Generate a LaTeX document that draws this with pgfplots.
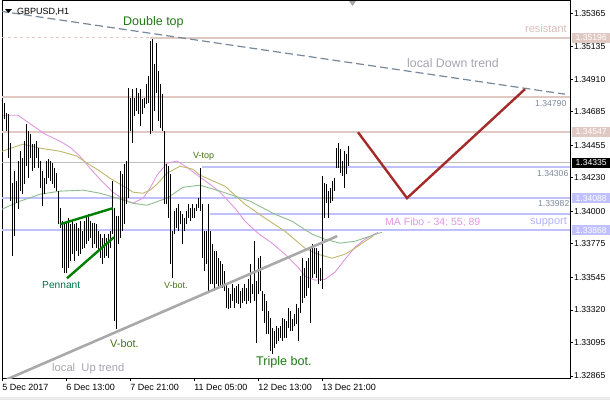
\documentclass[border=0pt]{standalone}
\usepackage{pgfplots}
\pgfplotsset{compat=1.18}
\usepackage{pgfplotstable}
\usepackage{fontspec}
\setmainfont{Liberation Sans}
\newcommand\fs[1]{\fontsize{#1bp}{#1bp}\selectfont}
\definecolor{respink}{RGB}{224,200,195}
\definecolor{respinkt}{RGB}{218,188,183}
\definecolor{supblue}{RGB}{192,192,255}
\definecolor{suptext}{RGB}{178,178,250}
\definecolor{dtrend}{RGB}{119,136,153}
\definecolor{utrend}{RGB}{169,169,169}
\definecolor{penn}{RGB}{0,128,0}
\definecolor{redv}{RGB}{165,42,42}
\definecolor{maviol}{RGB}{225,150,225}
\definecolor{matan}{RGB}{189,183,107}
\definecolor{magreen}{RGB}{143,188,143}
\definecolor{lblgreen}{RGB}{30,120,20}
\definecolor{lblolive}{RGB}{70,115,20}
\definecolor{lblteal}{RGB}{0,115,70}
\definecolor{graytxt}{RGB}{165,165,178}
\definecolor{valtxt}{RGB}{120,134,152}

\pgfplotstableread{
i h l
0 1.34723 1.34606
1 1.34744 1.34634
2 1.34675 1.34551
3 1.34668 1.34365
4 1.34469 1.34069
5 1.34193 1.33690
6 1.34276 1.33828
7 1.34207 1.34055
8 1.34345 1.34014
9 1.34413 1.34138
10 1.34365 1.34117
11 1.34482 1.34186
12 1.34599 1.34310
13 1.34551 1.34227
14 1.34531 1.34365
15 1.34462 1.34276
16 1.34462 1.34296
17 1.34482 1.34365
18 1.34434 1.34296
19 1.34345 1.34158
20 1.34276 1.34034
21 1.34227 1.34117
22 1.34345 1.34186
23 1.34358 1.34227
24 1.34345 1.34207
25 1.34331 1.34186
26 1.34296 1.34158
27 1.34262 1.34138
28 1.34138 1.33910
29 1.34021 1.33883
30 1.33931 1.33607
31 1.33910 1.33573
32 1.33931 1.33573
33 1.33952 1.33607
34 1.33910 1.33655
35 1.33931 1.33704
36 1.33910 1.33655
37 1.33917 1.33724
38 1.33883 1.33690
39 1.33931 1.33704
40 1.33862 1.33738
41 1.33931 1.33745
42 1.33966 1.33773
43 1.33979 1.33793
44 1.33931 1.33814
45 1.33917 1.33745
46 1.33917 1.33773
47 1.33910 1.33745
48 1.33862 1.33724
49 1.33842 1.33676
50 1.33814 1.33635
51 1.33842 1.33676
52 1.33814 1.33690
53 1.33842 1.33676
54 1.33862 1.33745
55 1.34207 1.33842
56 1.34021 1.33242
57 1.33966 1.33187
58 1.33966 1.33773
59 1.34276 1.33814
60 1.34255 1.33862
61 1.34324 1.33910
62 1.34345 1.34048
63 1.34847 1.34090
64 1.34779 1.34551
65 1.34841 1.34469
66 1.34779 1.34655
67 1.34847 1.34689
68 1.34813 1.34668
69 1.34841 1.34586
70 1.34772 1.34668
71 1.34779 1.34710
72 1.34875 1.34737
73 1.34930 1.34744
74 1.35171 1.34531
75 1.35185 1.34551
76 1.35013 1.34689
77 1.35158 1.34813
78 1.34965 1.34620
79 1.34875 1.34572
80 1.34806 1.34551
81 1.34551 1.34048
82 1.34324 1.34048
83 1.34310 1.33952
84 1.34255 1.33635
85 1.33862 1.33538
86 1.34000 1.33842
87 1.34021 1.33883
88 1.34048 1.33862
89 1.34000 1.33910
90 1.33979 1.33773
91 1.33952 1.33862
92 1.34000 1.33910
93 1.34048 1.33952
94 1.34021 1.33931
95 1.34048 1.33952
96 1.34021 1.33952
97 1.34048 1.34000
98 1.34090 1.34021
99 1.34296 1.34000
100 1.34048 1.33676
101 1.33862 1.33587
102 1.33862 1.33635
103 1.34048 1.33449
104 1.33862 1.33497
105 1.33773 1.33497
106 1.33724 1.33469
107 1.33724 1.33497
108 1.33676 1.33469
109 1.33655 1.33469
110 1.33635 1.33469
111 1.33587 1.33449
112 1.33497 1.33332
113 1.33469 1.33325
114 1.33428 1.33332
115 1.33497 1.33380
116 1.33469 1.33332
117 1.33483 1.33366
118 1.33497 1.33359
119 1.33449 1.33332
120 1.33469 1.33366
121 1.33497 1.33380
122 1.33469 1.33359
123 1.33531 1.33380
124 1.33635 1.33366
125 1.33497 1.33428
126 1.33793 1.33380
127 1.33518 1.33091
128 1.33676 1.33428
129 1.33690 1.33449
130 1.33449 1.33311
131 1.33428 1.33228
132 1.33380 1.33153
133 1.33311 1.33153
134 1.33263 1.33035
135 1.33194 1.33015
136 1.33173 1.33056
137 1.33208 1.33084
138 1.33194 1.33104
139 1.33208 1.33125
140 1.33263 1.33104
141 1.33256 1.33125
142 1.33242 1.33125
143 1.33332 1.33194
144 1.33311 1.33173
145 1.33256 1.33173
146 1.33290 1.33208
147 1.33359 1.33221
148 1.33332 1.33104
149 1.33552 1.33297
150 1.33676 1.33366
151 1.33607 1.33401
152 1.33655 1.33414
153 1.33676 1.33469
154 1.33745 1.33228
155 1.33773 1.33538
156 1.33745 1.33566
157 1.33745 1.33538
158 1.33724 1.33497
159 1.33607 1.33518
160 1.34241 1.33463
161 1.34193 1.33952
162 1.34186 1.34055
163 1.34138 1.33952
164 1.34158 1.34055
165 1.34207 1.34069
166 1.34227 1.34138
167 1.34434 1.34296
168 1.34469 1.34296
169 1.34427 1.34262
170 1.34345 1.34241
171 1.34413 1.34158
172 1.34393 1.34255
173 1.34448 1.34310
}\bars

\begin{document}
\begin{tikzpicture}[x=1bp,y=1bp]
\useasboundingbox (-2,-22) rectangle (608,378);
\fill[black!8] (-2,-22) rectangle (608,-19);
\begin{axis}[
  at={(0,0)}, anchor=south west,
  scale only axis, width=568bp, height=377bp,
  xmin=-0.35, xmax=283.65, ymin=1.32851, ymax=1.35448,
  clip mode=individual,
  axis line style={black, line width=1bp},
  tick style={black, line width=0.8bp},
  tick align=outside, major tick length=3bp,
  xtick={0,32,64,96,128,160},
  xticklabels={5 Dec 2017,6 Dec 13:00,7 Dec 21:00,11 Dec 05:00,12 Dec 13:00,13 Dec 21:00},
  xtick pos=bottom,
  xticklabel style={anchor=north west, font=\fs{9}, inner xsep=0pt, xshift=-0.5bp},
  ytick={1.32865,1.33095,1.33320,1.33545,1.33775,1.34000,1.34230,1.34455,1.34685,1.34910,1.35135,1.35365},
  yticklabels={1.32865,1.33095,1.33320,1.33545,1.33775,1.34000,1.34230,1.34455,1.34685,1.34910,1.35135,1.35365},
  ytick pos=right, yticklabel pos=right,
  yticklabel style={anchor=west, font=\fs{8.6}, inner xsep=1bp},
  scaled y ticks=false,
]
% horizontal levels
\addplot[respink, line width=0.8bp, dash pattern=on 3bp off 3bp] coordinates {(-0.35,1.35196) (73.65,1.35196)};
\addplot[respink, line width=2bp] coordinates {(73.65,1.35196) (283.65,1.35196)};
\addplot[respink, line width=2bp] coordinates {(-0.35,1.34790) (283.65,1.34790)};
\addplot[respink, line width=2bp] coordinates {(-0.35,1.34547) (283.65,1.34547)};
\addplot[black!25, line width=0.8bp] coordinates {(-0.35,1.34335) (283.65,1.34335)};
\addplot[supblue, line width=2bp] coordinates {(99.5,1.34306) (283.65,1.34306)};
\addplot[supblue, line width=2bp] coordinates {(-0.35,1.34088) (283.65,1.34088)};
\addplot[supblue, line width=2bp] coordinates {(103.65,1.33982) (283.65,1.33982)};
\addplot[supblue, line width=2bp] coordinates {(-0.35,1.33868) (283.65,1.33868)};
% moving averages
\addplot[maviol, line width=0.9bp] coordinates {(-0.35,1.34661) (7.65,1.34661) (14.65,1.34593) (21.15,1.34531) (28.65,1.34482) (33.65,1.34441) (38.65,1.34379) (43.65,1.34296) (48.65,1.34220) (55.15,1.34131) (60.15,1.34083) (65.15,1.34055) (70.15,1.34090) (73.65,1.34158) (77.15,1.34248) (82.15,1.34331) (87.15,1.34345) (92.15,1.34303) (98.65,1.34234) (103.65,1.34186) (108.65,1.34131) (116.15,1.34021) (121.15,1.33931) (127.65,1.33848) (134.65,1.33780) (141.15,1.33704) (147.65,1.33614) (151.15,1.33552) (156.15,1.33525) (161.15,1.33531) (166.15,1.33580) (171.15,1.33669) (176.15,1.33752) (181.15,1.33807) (187.65,1.33855)};
\addplot[matan, line width=0.9bp] coordinates {(-0.35,1.34413) (10.15,1.34462) (18.65,1.34434) (28.65,1.34413) (37.15,1.34379) (42.15,1.34331) (48.65,1.34276) (53.65,1.34227) (58.65,1.34186) (62.15,1.34158) (65.15,1.34131) (70.15,1.34124) (73.65,1.34145) (77.15,1.34186) (82.15,1.34262) (88.65,1.34310) (95.15,1.34289) (98.65,1.34248) (111.15,1.34172) (121.15,1.34048) (131.15,1.33952) (141.15,1.33862) (151.15,1.33745) (157.65,1.33704) (164.65,1.33676) (171.15,1.33704) (176.15,1.33745) (181.15,1.33793) (185.15,1.33828)};
\addplot[magreen, line width=0.9bp] coordinates {(-0.35,1.34014) (8.65,1.34069) (18.65,1.34117) (28.65,1.34138) (40.15,1.34145) (48.65,1.34124) (57.15,1.34090) (65.15,1.34055) (72.15,1.34041) (82.15,1.34090) (90.15,1.34165) (98.65,1.34179) (108.65,1.34138) (123.65,1.34069) (136.15,1.33979) (144.65,1.33931) (154.65,1.33842) (161.15,1.33807) (168.65,1.33780) (176.15,1.33793) (183.65,1.33828) (189.65,1.33855)};
% price bars (high-low)
\addplot[draw=none, mark=none, forget plot,
  error bars/.cd, y dir=minus, y explicit, error mark=none,
  error bar style={draw=black, solid, line width=1.15bp}]
  table[x=i, y=h, y error minus expr={\thisrow{h}-\thisrow{l}}] {\bars};
% trend lines
\addplot[dtrend, line width=1.2bp, dash pattern=on 8bp off 4bp] coordinates {(-1.35,1.35378) (281.2,1.34806)};
\addplot[utrend, line width=2.6bp] coordinates {(2.15,1.32842) (167.2,1.33828)};
\addplot[penn, line width=2.4bp] coordinates {(28.65,1.33910) (55.15,1.34021)};
\addplot[penn, line width=2.4bp] coordinates {(32.15,1.33538) (55.65,1.33821)};
\addplot[redv, line width=2.4bp] coordinates {(177.65,1.34544) (202.15,1.34090) (261.15,1.34841)};
% value boxes on the price scale
\node[fill=respink, text=white, anchor=west, minimum width=38bp, minimum height=10bp, inner sep=0pt, font=\fs{8.6}, xshift=2bp] at (axis cs:283.65,1.35196) {1.35196};
\node[fill=respink, text=white, anchor=west, minimum width=38bp, minimum height=10bp, inner sep=0pt, font=\fs{8.6}, xshift=2bp] at (axis cs:283.65,1.34547) {1.34547};
\node[fill=black, text=white, anchor=west, minimum width=38bp, minimum height=10bp, inner sep=0pt, font=\fs{8.6}, xshift=2bp] at (axis cs:283.65,1.34335) {1.34335};
\node[fill=supblue, text=white, anchor=west, minimum width=38bp, minimum height=10bp, inner sep=0pt, font=\fs{8.6}, xshift=2bp] at (axis cs:283.65,1.34088) {1.34088};
\node[fill=supblue, text=white, anchor=west, minimum width=38bp, minimum height=10bp, inner sep=0pt, font=\fs{8.6}, xshift=2bp] at (axis cs:283.65,1.33868) {1.33868};
\end{axis}
% annotations
\fill[black] (3,369) -- (10,369) -- (6.5,365) -- cycle;
\fill[black!35] (347,377) -- (354,377) -- (350.5,372) -- cycle;
\node[anchor=base west, inner sep=0pt, font=\fs{9}] at (15,364) {GBPUSD,H1};
\node[anchor=base west, inner sep=0pt, font=\fs{12.5}, text=lblgreen] at (121,353) {Double top};
\node[anchor=base west, inner sep=0pt, font=\fs{11}, text=respinkt] at (523,346) {resistant};
\node[anchor=base west, inner sep=0pt, font=\fs{12.3}, text=graytxt] at (405,311) {local Down trend};
\node[anchor=base west, inner sep=0pt, font=\fs{8.6}, text=valtxt] at (533,272) {1.34790};
\node[anchor=base west, inner sep=0pt, font=\fs{9}, text=lblolive] at (191,220) {V-top};
\node[anchor=base west, inner sep=0pt, font=\fs{8.6}, text=valtxt] at (535,202) {1.34306};
\node[anchor=base west, inner sep=0pt, font=\fs{8.6}, text=valtxt] at (536,172) {1.33982};
\node[anchor=base west, inner sep=0pt, font=\fs{10.5}, text=maviol] at (383,153) {MA Fibo - 34; 55; 89};
\node[anchor=base west, inner sep=0pt, font=\fs{11}, text=suptext] at (528,154) {support};
\node[anchor=base west, inner sep=0pt, font=\fs{10.2}, text=lblteal] at (40,90) {Pennant};
\node[anchor=base west, inner sep=0pt, font=\fs{9}, text=lblolive] at (162,90) {V-bot.};
\node[anchor=base west, inner sep=0pt, font=\fs{10.9}, text=lblolive] at (108,31) {V-bot.};
\node[anchor=base west, inner sep=0pt, font=\fs{11.2}, text=graytxt] at (50,7) {local\ \ Up trend};
\node[anchor=base west, inner sep=0pt, font=\fs{12.6}, text=lblgreen] at (254,13) {Triple bot.};
\end{tikzpicture}
\end{document}
